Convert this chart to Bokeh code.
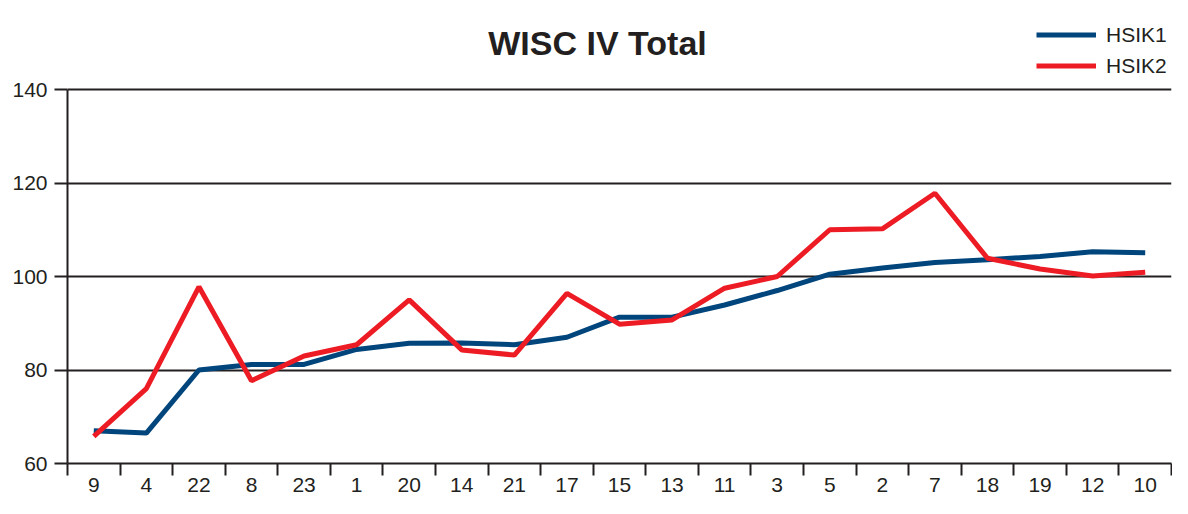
from bokeh.plotting import figure
from bokeh.models import Range1d, FixedTicker, Label, Legend, LegendItem
from bokeh.embed import file_html
from bokeh.resources import INLINE

title_text = "WISC IV Total"
categories = ["9", "4", "22", "8", "23", "1", "20", "14", "21", "17", "15",
              "13", "11", "3", "5", "2", "7", "18", "19", "12", "10"]
hsik1 = [67.0, 66.5, 80.0, 81.2, 81.2, 84.4, 85.7, 85.8, 85.4, 87.0, 91.3,
         91.3, 93.9, 97.0, 100.5, 101.8, 103.0, 103.6, 104.3, 105.3, 105.1]
hsik2 = [65.8, 76.0, 97.8, 77.7, 83.0, 85.4, 95.0, 84.3, 83.2, 96.4, 89.8,
         90.7, 97.5, 100.0, 110.0, 110.2, 117.8, 103.9, 101.6, 100.1, 100.9]
y_ticks = [60, 80, 100, 120, 140]
series_names = ["HSIK1", "HSIK2"]

BLUE = "#00457c"
RED = "#ed1c24"
INK = "#231f20"
FONT = "Liberation Sans"

W, H = 1172, 498
LEFT, RIGHT_PAD, BOTTOM_PAD = 67, 1, 35
TOP_140 = 89                      # pixel row of the 140 gridline
frame_h = H - BOTTOM_PAD          # frame spans the full top area
px_per_unit = (frame_h - TOP_140) / (y_ticks[-1] - y_ticks[0])
y_top = y_ticks[-1] + TOP_140 / px_per_unit

n = len(categories)
xs = [i + 0.5 for i in range(n)]

p = figure(width=W, height=H, output_backend="svg", toolbar_location=None,
           x_range=Range1d(0, n), y_range=Range1d(y_ticks[0], y_top),
           min_border_left=LEFT, min_border_right=RIGHT_PAD, min_border_top=0,
           min_border_bottom=BOTTOM_PAD)
p.title.visible = False
p.outline_line_color = None
p.background_fill_color = "white"
p.border_fill_color = "white"

r1 = p.line(xs, hsik1, line_color=BLUE, line_width=5)
r2 = p.line(xs, hsik2, line_color=RED, line_width=5)

# x axis
xa = p.xaxis[0]
xa.ticker = FixedTicker(ticks=xs, minor_ticks=list(range(n + 1)))
xa.major_label_overrides = {x: c for x, c in zip(xs, categories)}
xa.major_tick_line_color = None
xa.major_tick_out = 12
xa.major_tick_in = 0
xa.minor_tick_out = 12
xa.minor_tick_in = 0
xa.minor_tick_line_color = INK
xa.minor_tick_line_width = 2
xa.axis_line_color = INK
xa.axis_line_width = 2
xa.major_label_standoff = 2
xa.major_label_text_font = FONT
xa.major_label_text_font_size = "21px"
xa.major_label_text_color = INK

# y axis
ya = p.yaxis[0]
ya.ticker = FixedTicker(ticks=y_ticks)
ya.bounds = (y_ticks[0], y_ticks[-1])
ya.major_tick_out = 13
ya.major_tick_in = 0
ya.major_tick_line_color = INK
ya.major_tick_line_width = 2
ya.minor_tick_line_color = None
ya.axis_line_color = INK
ya.axis_line_width = 2
ya.major_label_standoff = 7
ya.major_label_text_font = FONT
ya.major_label_text_font_size = "21px"
ya.major_label_text_color = INK

p.xgrid.grid_line_color = None
p.ygrid.ticker = FixedTicker(ticks=y_ticks[1:])
p.ygrid.grid_line_color = INK
p.ygrid.grid_line_width = 2

# title (inside the tall frame, above the 140 line)
title = Label(x=530, y=frame_h - 42, x_units="screen", y_units="screen",
              text=title_text, text_align="center", text_baseline="alphabetic",
              text_font=FONT, text_font_size="34px", text_font_style="bold",
              text_color=INK)
p.add_layout(title)

legend = Legend(items=[LegendItem(label=series_names[0], renderers=[r1]),
                       LegendItem(label=series_names[1], renderers=[r2])],
                location=(969, frame_h - 81), orientation="vertical",
                padding=0, margin=0, spacing=0,
                glyph_width=60, glyph_height=31, label_standoff=10,
                label_text_font=FONT, label_text_font_size="21px",
                label_text_color=INK, border_line_color=None,
                background_fill_alpha=0)
p.add_layout(legend, "center")

open("out.html", "w").write(file_html(p, INLINE))
